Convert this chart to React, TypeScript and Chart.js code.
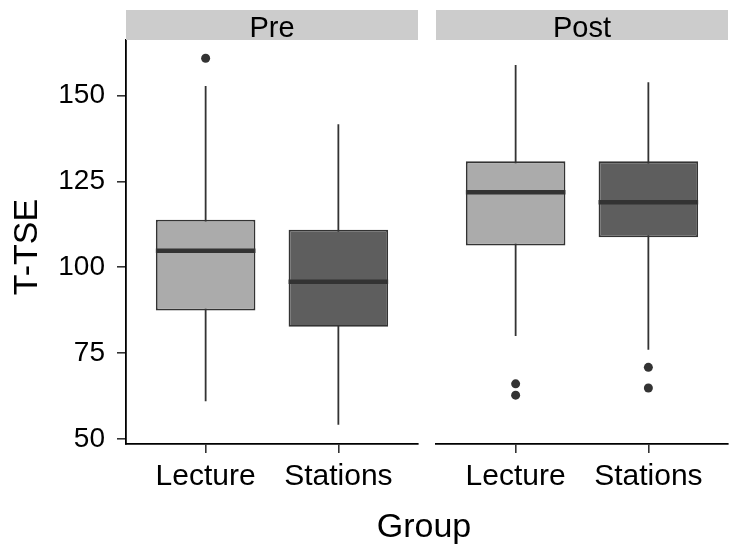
import React, { useEffect, useRef } from "react";
import { Chart, registerables } from "chart.js";

Chart.register(...registerables);

// ---- data ----
const groups = ["Lecture", "Stations"];
const groupPos = [1, 2];
const yTicks = [50, 75, 100, 125, 150];
const yMin = 48.6;
const yMax = 166.1;
const yTitle = "T-TSE";
const xTitle = "Group";

// Pre panel
const preWhiskerLow = [61.0, 54.2];
const preQ1 = [87.4, 82.7];
const preMedian = [104.8, 95.8];
const preQ3 = [113.8, 110.9];
const preWhiskerHigh = [152.7, 141.6];
const preOutliers = [[160.8], []];

// Post panel
const postWhiskerLow = [80.0, 76.0];
const postQ1 = [106.3, 108.7];
const postMedian = [121.8, 118.9];
const postQ3 = [130.8, 130.8];
const postWhiskerHigh = [158.8, 153.8];
const postOutliers = [[66.1, 62.8], [70.9, 64.9]];

const FONT = "'Liberation Sans', Arial, Helvetica, sans-serif";
const boxFill = ["#ababab", "#5e5e5e"];
const lineCol = "#333333";

type Panel = {
  title: string;
  wLow: number[];
  q1: number[];
  med: number[];
  q3: number[];
  wHigh: number[];
  outliers: number[][];
};

const panels: Panel[] = [
  { title: "Pre", wLow: preWhiskerLow, q1: preQ1, med: preMedian, q3: preQ3, wHigh: preWhiskerHigh, outliers: preOutliers },
  { title: "Post", wLow: postWhiskerLow, q1: postQ1, med: postMedian, q3: postQ3, wHigh: postWhiskerHigh, outliers: postOutliers },
];

const stripPlugin = {
  id: "strip",
  afterDraw(chart: any, _args: any, opts: any) {
    const { ctx, chartArea } = chart;
    ctx.save();
    ctx.fillStyle = "#cccccc";
    ctx.fillRect(chartArea.left, 10, chartArea.right - chartArea.left, 30);
    ctx.fillStyle = "#000";
    ctx.font = `29px ${FONT}`;
    ctx.textAlign = "center";
    ctx.textBaseline = "alphabetic";
    ctx.fillText(opts.text, (chartArea.left + chartArea.right) / 2, 36.5);
    if (opts.yTitle) {
      ctx.translate(37, (chartArea.top + chartArea.bottom) / 2 + 5);
      ctx.rotate(-Math.PI / 2);
      ctx.font = `34px ${FONT}`;
      ctx.fillText(opts.yTitle, 0, 0);
    }
    ctx.restore();
  },
};

function makeConfig(p: Panel, first: boolean): any {
  const outlierPts: { x: number; y: number }[] = [];
  p.outliers.forEach((arr, i) => arr.forEach((v) => outlierPts.push({ x: groupPos[i], y: v })));
  return {
    type: "bar",
    data: {
      datasets: [
        {
          type: "bar",
          data: groupPos.map((x, i) => ({ x, y: [p.wLow[i], p.wHigh[i]] })),
          backgroundColor: lineCol,
          maxBarThickness: 1.8,
          grouped: false,
          barPercentage: 0.75,
          categoryPercentage: 1,
          order: 3,
        },
        {
          type: "bar",
          data: groupPos.map((x, i) => ({ x, y: [p.q1[i], p.q3[i]] })),
          backgroundColor: boxFill,
          borderColor: lineCol,
          borderWidth: 1.8,
          borderSkipped: false,
          grouped: false,
          barPercentage: 0.75,
          categoryPercentage: 1,
          order: 2,
        },
        {
          type: "scatter",
          data: groupPos.map((x, i) => ({ x, y: p.med[i] })),
          pointStyle: "line",
          pointRadius: (ctx: any) => {
            const s = ctx.chart.scales.x;
            return s.getPixelForValue(1.375) - s.getPixelForValue(1);
          },
          pointBorderWidth: 4.5,
          pointBorderColor: lineCol,
          pointBackgroundColor: lineCol,
          order: 1,
        },
        {
          type: "scatter",
          data: outlierPts,
          pointRadius: 4.5,
          pointBorderWidth: 0,
          pointBackgroundColor: lineCol,
          order: 0,
        },
      ],
    },
    options: {
      animation: false,
      responsive: false,
      maintainAspectRatio: false,
      events: [],
      layout: { padding: { top: 40, bottom: 0, left: first ? 0 : 12, right: first ? 6 : 8 } },
      plugins: {
        legend: { display: false },
        tooltip: { enabled: false },
        strip: { text: p.title, yTitle: first ? yTitle : null },
      },
      scales: {
        x: {
          type: "linear",
          min: 0.4,
          max: 2.6,
          offset: false,
          afterBuildTicks: (s: any) => {
            s.ticks = groupPos.map((v) => ({ value: v }));
          },
          afterFit: (s: any) => {
            s.height = 107;
          },
          ticks: {
            callback: (_v: any, i: number) => groups[i],
            font: { size: 30, family: FONT },
            color: "#000",
            padding: 6,
            maxRotation: 0,
            autoSkip: false,
          },
          grid: { offset: false, drawOnChartArea: false, drawTicks: true, tickLength: 9, color: lineCol, lineWidth: 1.6 },
          border: { display: true, color: "#000", width: 1.8 },
        },
        y: first
          ? {
              min: yMin,
              max: yMax,
              afterBuildTicks: (s: any) => {
                s.ticks = yTicks.map((v) => ({ value: v }));
              },
              afterFit: (s: any) => {
                s.width = 126;
              },
              ticks: { font: { size: 28, family: FONT }, color: "#000", padding: 12 },
              grid: { offset: false, drawOnChartArea: false, drawTicks: true, tickLength: 9, color: lineCol, lineWidth: 1.6 },
              border: { display: true, color: "#000", width: 1.8 },
            }
          : { display: false, min: yMin, max: yMax },
      },
    },
    plugins: [stripPlugin],
  };
}

function PanelChart({ p, first, left, width }: { p: Panel; first: boolean; left: number; width: number }) {
  const ref = useRef<HTMLCanvasElement | null>(null);
  useEffect(() => {
    if (!ref.current) return;
    const chart = new Chart(ref.current, makeConfig(p, first));
    return () => chart.destroy();
  }, [p, first]);
  return (
    <canvas
      ref={ref}
      width={width}
      height={551}
      style={{ position: "absolute", left, top: 0, width, height: 551 }}
    />
  );
}

export default function App() {
  return (
    <div style={{ position: "absolute", left: 0, top: 0, width: 736, height: 551, background: "#fff", overflow: "hidden" }}>
      <PanelChart p={panels[0]} first={true} left={0} width={424} />
      <PanelChart p={panels[1]} first={false} left={424} width={312} />
      <div
        style={{
          position: "absolute",
          left: 124,
          width: 600,
          top: 508,
          textAlign: "center",
          fontFamily: FONT,
          fontSize: 34,
          lineHeight: "34px",
          color: "#000",
        }}
      >
        {xTitle}
      </div>
    </div>
  );
}
